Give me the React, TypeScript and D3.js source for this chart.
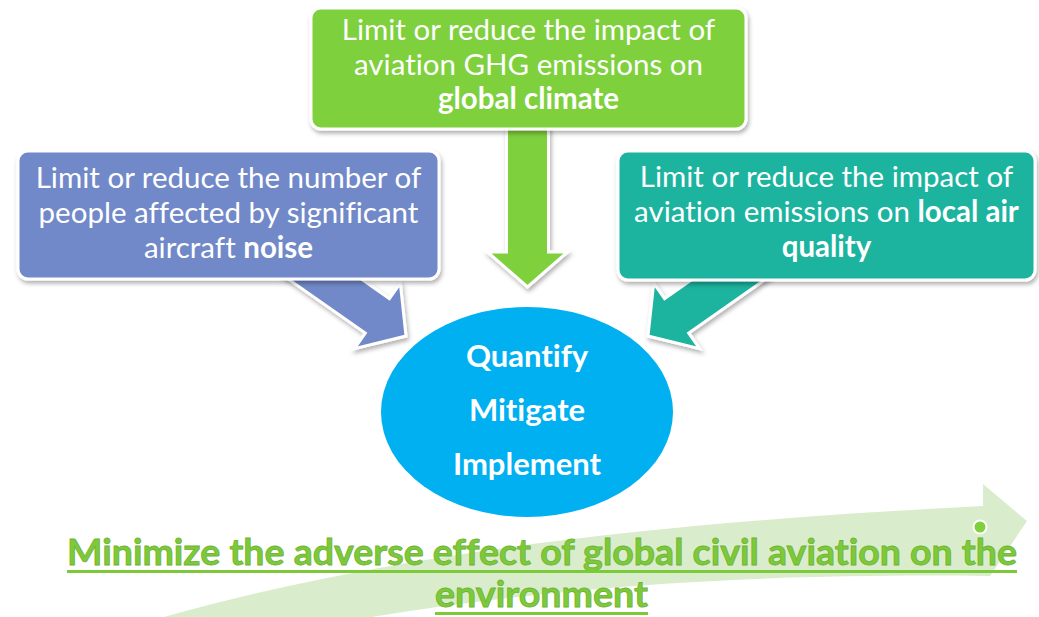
import { useRef, useEffect } from "react";
import * as d3 from "d3";

type Seg = [string, boolean];

// box texts (segment, bold?)
const noiseLines: Seg[][] = [
  [["Limit or reduce the number of", false]],
  [["people affected by significant", false]],
  [["aircraft ", false], ["noise", true]],
];
const climateLines: Seg[][] = [
  [["Limit or reduce the impact of", false]],
  [["aviation GHG emissions on", false]],
  [["global climate", true]],
];
const airLines: Seg[][] = [
  [["Limit or reduce the impact of", false]],
  [["aviation emissions on ", false], ["local air", true]],
  [["quality", true]],
];
const hubLines = ["Quantify", "Mitigate", "Implement"];
const goalLines = ["Minimize the adverse effect of global civil aviation on the", "environment"];

const W = 1039;
const H = 617;
const FONT = "Lato, 'Open Sans', sans-serif";
const NOLIG = "font-variant-ligatures: none; font-feature-settings: 'liga' 0, 'clig' 0;";

const boxes = [
  { lines: noiseLines, fill: "#7189c8", x: 18, y: 151, w: 421, h: 128, base: 188, step: 35 },
  { lines: climateLines, fill: "#7ed03c", x: 311, y: 8, w: 435, h: 121, base: 40, step: 34.5 },
  { lines: airLines, fill: "#1db39f", x: 618, y: 151, w: 417, h: 129, base: 187, step: 35 },
];

// arrows: start (hidden under box), tip
const arrows = [
  { fill: "#7189c8", s: [242, 221], t: [406, 336] },
  { fill: "#1db39f", s: [812, 221], t: [648, 336] },
  { fill: "#7ed03c", s: [527.5, 110], t: [527.5, 287] },
];

function arrowPoints(s: number[], t: number[], shaft: number, head: number, headLen: number) {
  const dx = t[0] - s[0], dy = t[1] - s[1];
  const L = Math.hypot(dx, dy);
  const ux = dx / L, uy = dy / L;
  const nx = -uy, ny = ux;
  const bx = t[0] - ux * headLen, by = t[1] - uy * headLen;
  return [
    [s[0] + nx * shaft / 2, s[1] + ny * shaft / 2],
    [bx + nx * shaft / 2, by + ny * shaft / 2],
    [bx + nx * head / 2, by + ny * head / 2],
    [t[0], t[1]],
    [bx - nx * head / 2, by - ny * head / 2],
    [bx - nx * shaft / 2, by - ny * shaft / 2],
    [s[0] - nx * shaft / 2, s[1] - ny * shaft / 2],
  ] as [number, number][];
}

export default function App() {
  const svgRef = useRef<SVGSVGElement>(null);

  useEffect(() => {
    if (!svgRef.current) return;
    const svg = d3.select(svgRef.current);
    svg.selectAll("*").remove();

    const defs = svg.append("defs");
    const f = defs.append("filter").attr("id", "shadow").attr("x", "-10%").attr("y", "-10%").attr("width", "130%").attr("height", "140%");
    f.append("feDropShadow").attr("dx", 1.5).attr("dy", 3).attr("stdDeviation", 2).attr("flood-color", "#000").attr("flood-opacity", 0.3);

    svg.append("rect").attr("width", W).attr("height", H).attr("fill", "#fff");

    // background swoosh
    const p = d3.path();
    p.moveTo(60, 650);
    p.bezierCurveTo(300, 565, 600, 525, 983, 506);
    p.lineTo(983, 484);
    p.lineTo(1027, 521);
    p.lineTo(990, 576);
    p.bezierCurveTo(750, 573, 450, 586, 170, 660);
    p.closePath();
    svg.append("path").attr("d", p.toString()).attr("fill", "#d9edcd");

    svg.append("circle").attr("cx", 980).attr("cy", 527).attr("r", 6.5)
      .attr("fill", "#7ed03c").attr("stroke", "#fff").attr("stroke-width", 2);

    // arrows
    const line = d3.line();
    arrows.forEach((a) => {
      const pts = arrowPoints(a.s, a.t, 42, 80, 35);
      svg.append("path").attr("d", line(pts) + "Z")
        .attr("fill", a.fill).attr("stroke", "#fff").attr("stroke-width", 3)
        .attr("stroke-linejoin", "miter").attr("filter", "url(#shadow)");
    });

    // boxes
    boxes.forEach((b) => {
      svg.append("rect").attr("x", b.x).attr("y", b.y).attr("width", b.w).attr("height", b.h)
        .attr("rx", 10).attr("fill", b.fill).attr("stroke", "#fff").attr("stroke-width", 3)
        .attr("filter", "url(#shadow)");
      b.lines.forEach((segs, i) => {
        const t = svg.append("text").attr("x", b.x + b.w / 2).attr("y", b.base + i * b.step)
          .attr("text-anchor", "middle").attr("font-family", FONT).attr("font-size", 29.5)
          .attr("style", NOLIG).attr("fill", "#fff");
        segs.forEach(([s, bold]) => {
          t.append("tspan").attr("font-weight", bold ? 700 : 400).text(s);
        });
      });
    });

    // hub ellipse
    svg.append("ellipse").attr("cx", 527).attr("cy", 412).attr("rx", 146).attr("ry", 105).attr("fill", "#00b0f0");
    hubLines.forEach((s, i) => {
      svg.append("text").attr("x", 527).attr("y", 367 + i * 54).attr("text-anchor", "middle")
        .attr("font-family", FONT).attr("font-size", 31).attr("font-weight", 700)
        .attr("style", NOLIG).attr("fill", "#fff").text(s);
    });

    // goal text
    const goalPos = [
      { y: 565, x0: 67, x1: 1017 },
      { y: 607, x0: 435, x1: 648 },
    ];
    goalLines.forEach((s, i) => {
      const g = goalPos[i];
      svg.append("text").attr("x", g.x0).attr("y", g.y)
        .attr("font-family", FONT).attr("font-size", 37).attr("font-weight", 700)
        .attr("style", NOLIG)
        .attr("fill", "#7cca3a").attr("stroke", "#6fb233").attr("stroke-width", 0.8)
        .attr("textLength", g.x1 - g.x0).attr("lengthAdjust", "spacingAndGlyphs").text(s);
      svg.append("rect").attr("x", g.x0).attr("y", g.y + 5).attr("width", g.x1 - g.x0).attr("height", 3).attr("fill", "#7cca3a");
    });
  }, []);

  return (
    <svg ref={svgRef} width={W} height={H}
      style={{ position: "absolute", left: 0, top: 0, display: "block" }} />
  );
}
